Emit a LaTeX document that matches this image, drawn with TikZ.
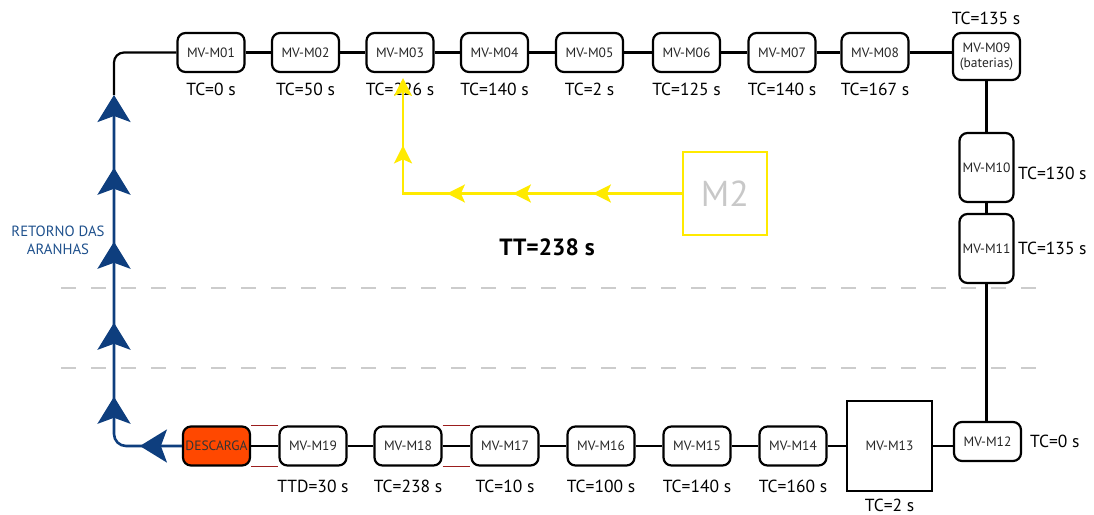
\documentclass[tikz,border=0pt]{standalone}
\usepackage{fontspec}
\setmainfont{PT Sans}
\usetikzlibrary{arrows.meta,decorations.markings}
\definecolor{retblue}{RGB}{14,62,126}
\definecolor{rettext}{RGB}{30,80,140}
\definecolor{ylw}{RGB}{255,234,0}
\definecolor{dashgray}{RGB}{204,204,204}
\definecolor{m2gray}{RGB}{200,200,200}
\definecolor{dred}{RGB}{155,30,30}
\definecolor{descfill}{RGB}{255,72,0}
\begin{document}
\begin{tikzpicture}[x=1pt,y=-1pt,
  mv/.style={draw, line width=2.2pt, rounded corners=8pt, minimum width=67pt, minimum height=39pt,
    inner sep=0pt, font=\fontsize{13.5}{15}\selectfont, text=black!85, fill=white},
  tall/.style={mv, minimum width=54pt, minimum height=69pt},
  lbl/.style={font=\fontsize{17.5}{19}\selectfont, inner sep=0pt},
  conn/.style={line width=2.2pt},
  dashline/.style={dashgray, line width=2.6pt, dash pattern=on 15pt off 15pt},
  bluearrow/.style={-{Stealth[length=27pt,width=33pt,inset=6pt]}},
  yarrow/.style={-{Stealth[length=18pt,width=18pt,inset=4pt]}},
  redline/.style={dred, line width=1.3pt}
]
\useasboundingbox (0,0) rectangle (1094,514);

% top row
\node[mv] (M01) at (211,52.5) {MV-M01};
\node[mv] (M02) at (305.5,52.5) {MV-M02};
\node[mv] (M03) at (400,52.5) {MV-M03};
\node[mv] (M04) at (494.5,52.5) {MV-M04};
\node[mv] (M05) at (589.5,52.5) {MV-M05};
\node[mv] (M06) at (686.5,52.5) {MV-M06};
\node[mv] (M07) at (782,52.5) {MV-M07};
\node[mv] (M08) at (875,52.5) {MV-M08};
\node[mv, minimum height=47pt, align=center, font=\fontsize{13.5}{15.5}\selectfont] (M09) at (986.5,56.5) {MV-M09\\(baterias)};
% right column
\node[tall] (M10) at (986.5,167.5) {MV-M10};
\node[tall] (M11) at (986.5,248.5) {MV-M11};
% bottom row
\node[mv] (M12) at (987.5,441.5) {MV-M12};
\node[draw, line width=2.2pt, sharp corners, minimum width=85pt, minimum height=90pt, inner sep=0pt,
  font=\fontsize{13.5}{15}\selectfont, text=black!85] (M13) at (889.5,446) {MV-M13};
\node[mv] (M14) at (793,446) {MV-M14};
\node[mv] (M15) at (697,446) {MV-M15};
\node[mv] (M16) at (601,446) {MV-M16};
\node[mv] (M17) at (505,446) {MV-M17};
\node[mv] (M18) at (408,446) {MV-M18};
\node[mv] (M19) at (313,446) {MV-M19};
\node[mv, fill=descfill, font=\fontsize{13.5}{15}\selectfont, text=black!80] (DESC) at (216.5,446) {DESCARGA};

% labels
\node[lbl] (L01) at (211,89) {TC=0 s};
\node[lbl] (L02) at (305.5,89) {TC=50 s};
\node[lbl] (L03) at (400,89) {TC=226 s};
\node[lbl] (L04) at (494.5,89) {TC=140 s};
\node[lbl] (L05) at (589.5,89) {TC=2 s};
\node[lbl] (L06) at (686.5,89) {TC=125 s};
\node[lbl] (L07) at (782,89) {TC=140 s};
\node[lbl] (L08) at (875,89) {TC=167 s};
\node[lbl] (L09) at (986,18) {TC=135 s};
\node[lbl, anchor=west] (L10) at (1018,173) {TC=130 s};
\node[lbl, anchor=west] (L11) at (1018,248) {TC=135 s};
\node[lbl, anchor=west] (L12) at (1030,441) {TC=0 s};
\node[lbl] (L13) at (889.5,505) {TC=2 s};
\node[lbl] (L14) at (793,486) {TC=160 s};
\node[lbl] (L15) at (697,486) {TC=140 s};
\node[lbl] (L16) at (601,486) {TC=100 s};
\node[lbl] (L17) at (505,486) {TC=10 s};
\node[lbl] (L18) at (408,486) {TC=238 s};
\node[lbl] (L19) at (313,486) {TTD=30 s};

\node[font=\bfseries\fontsize{23.5}{26}\selectfont, inner sep=0pt] (TT) at (547,247) {TT=238 s};
\node[text=rettext, align=center, font=\fontsize{14.8}{18}\selectfont, inner sep=0pt] (RET) at (58,240) {RETORNO DAS\\ARANHAS};

% connectors top
\coordinate (topturn) at (114,95);
\draw[conn, rounded corners=10pt] (topturn) |- (M01.west);
\draw[conn] (M01.east) -- (M02.west);
\draw[conn] (M02.east) -- (M03.west);
\draw[conn] (M03.east) -- (M04.west);
\draw[conn] (M04.east) -- (M05.west);
\draw[conn] (M05.east) -- (M06.west);
\draw[conn] (M06.east) -- (M07.west);
\draw[conn] (M07.east) -- (M08.west);
\draw[conn] (M08.east) -- (M08.east -| M09.west);
\draw[conn] (M09.south) -- (M10.north);
\draw[conn] (M10.south) -- (M11.north);
\draw[conn] (M11.south) -- (M11.south |- M12.north);
\draw[conn] (M13.east) -- (M13.east -| M12.west);
\draw[conn] (M14.east) -- (M13.west);
\draw[conn] (M15.east) -- (M14.west);
\draw[conn] (M16.east) -- (M15.west);
\draw[conn] (M17.east) -- (M16.west);
\draw[conn] (M18.east) -- (M17.west);
\draw[conn] (M19.east) -- (M18.west);
\draw[conn] (DESC.east) -- (M19.west);

% red edge lines
\draw[redline] (DESC.north east) -- (M19.north west);
\draw[redline] (DESC.south east) -- (M19.south west);
\draw[redline] (M18.north east) -- (M17.north west);
\draw[redline] (M18.south east) -- (M17.south west);

% return of the spiders (blue)
\coordinate (retcorner) at (114,446);
\draw[retblue, line width=2.6pt, rounded corners=12pt, bluearrow,
  postaction={decorate, decoration={markings,
    mark=at position 42pt with {\arrow{Stealth[length=27pt,width=33pt,inset=6pt]}},
    mark=at position 112pt with {\arrow{Stealth[length=27pt,width=33pt,inset=6pt]}},
    mark=at position 186pt with {\arrow{Stealth[length=27pt,width=33pt,inset=6pt]}},
    mark=at position 267pt with {\arrow{Stealth[length=27pt,width=33pt,inset=6pt]}},
    mark=at position 341pt with {\arrow{Stealth[length=27pt,width=33pt,inset=6pt]}}}}]
  (DESC.west) -- (retcorner) -- (topturn);

% M2 yellow
\node[draw=ylw, line width=2.2pt, minimum width=84pt, minimum height=83pt, inner sep=0pt,
  text=m2gray, font=\fontsize{36}{40}\selectfont] (M2) at (725,193.5) {M2};
\coordinate (ycorner) at (403,193.5);
\coordinate (yend) at (403,78);
\draw[ylw, line width=2.2pt, yarrow,
  postaction={decorate, decoration={markings,
    mark=at position 89pt with {\arrow{Stealth[length=18pt,width=18pt,inset=4pt]}},
    mark=at position 169pt with {\arrow{Stealth[length=18pt,width=18pt,inset=4pt]}},
    mark=at position 235pt with {\arrow{Stealth[length=18pt,width=18pt,inset=4pt]}},
    mark=at position 327pt with {\arrow{Stealth[length=18pt,width=18pt,inset=4pt]}}}}]
  (M2.west) -- (ycorner) -- (yend);

% dashed separators
\draw[dashline] (61,288) -- (1040,288);
\draw[dashline] (61,368) -- (1040,368);
\end{tikzpicture}
\end{document}
